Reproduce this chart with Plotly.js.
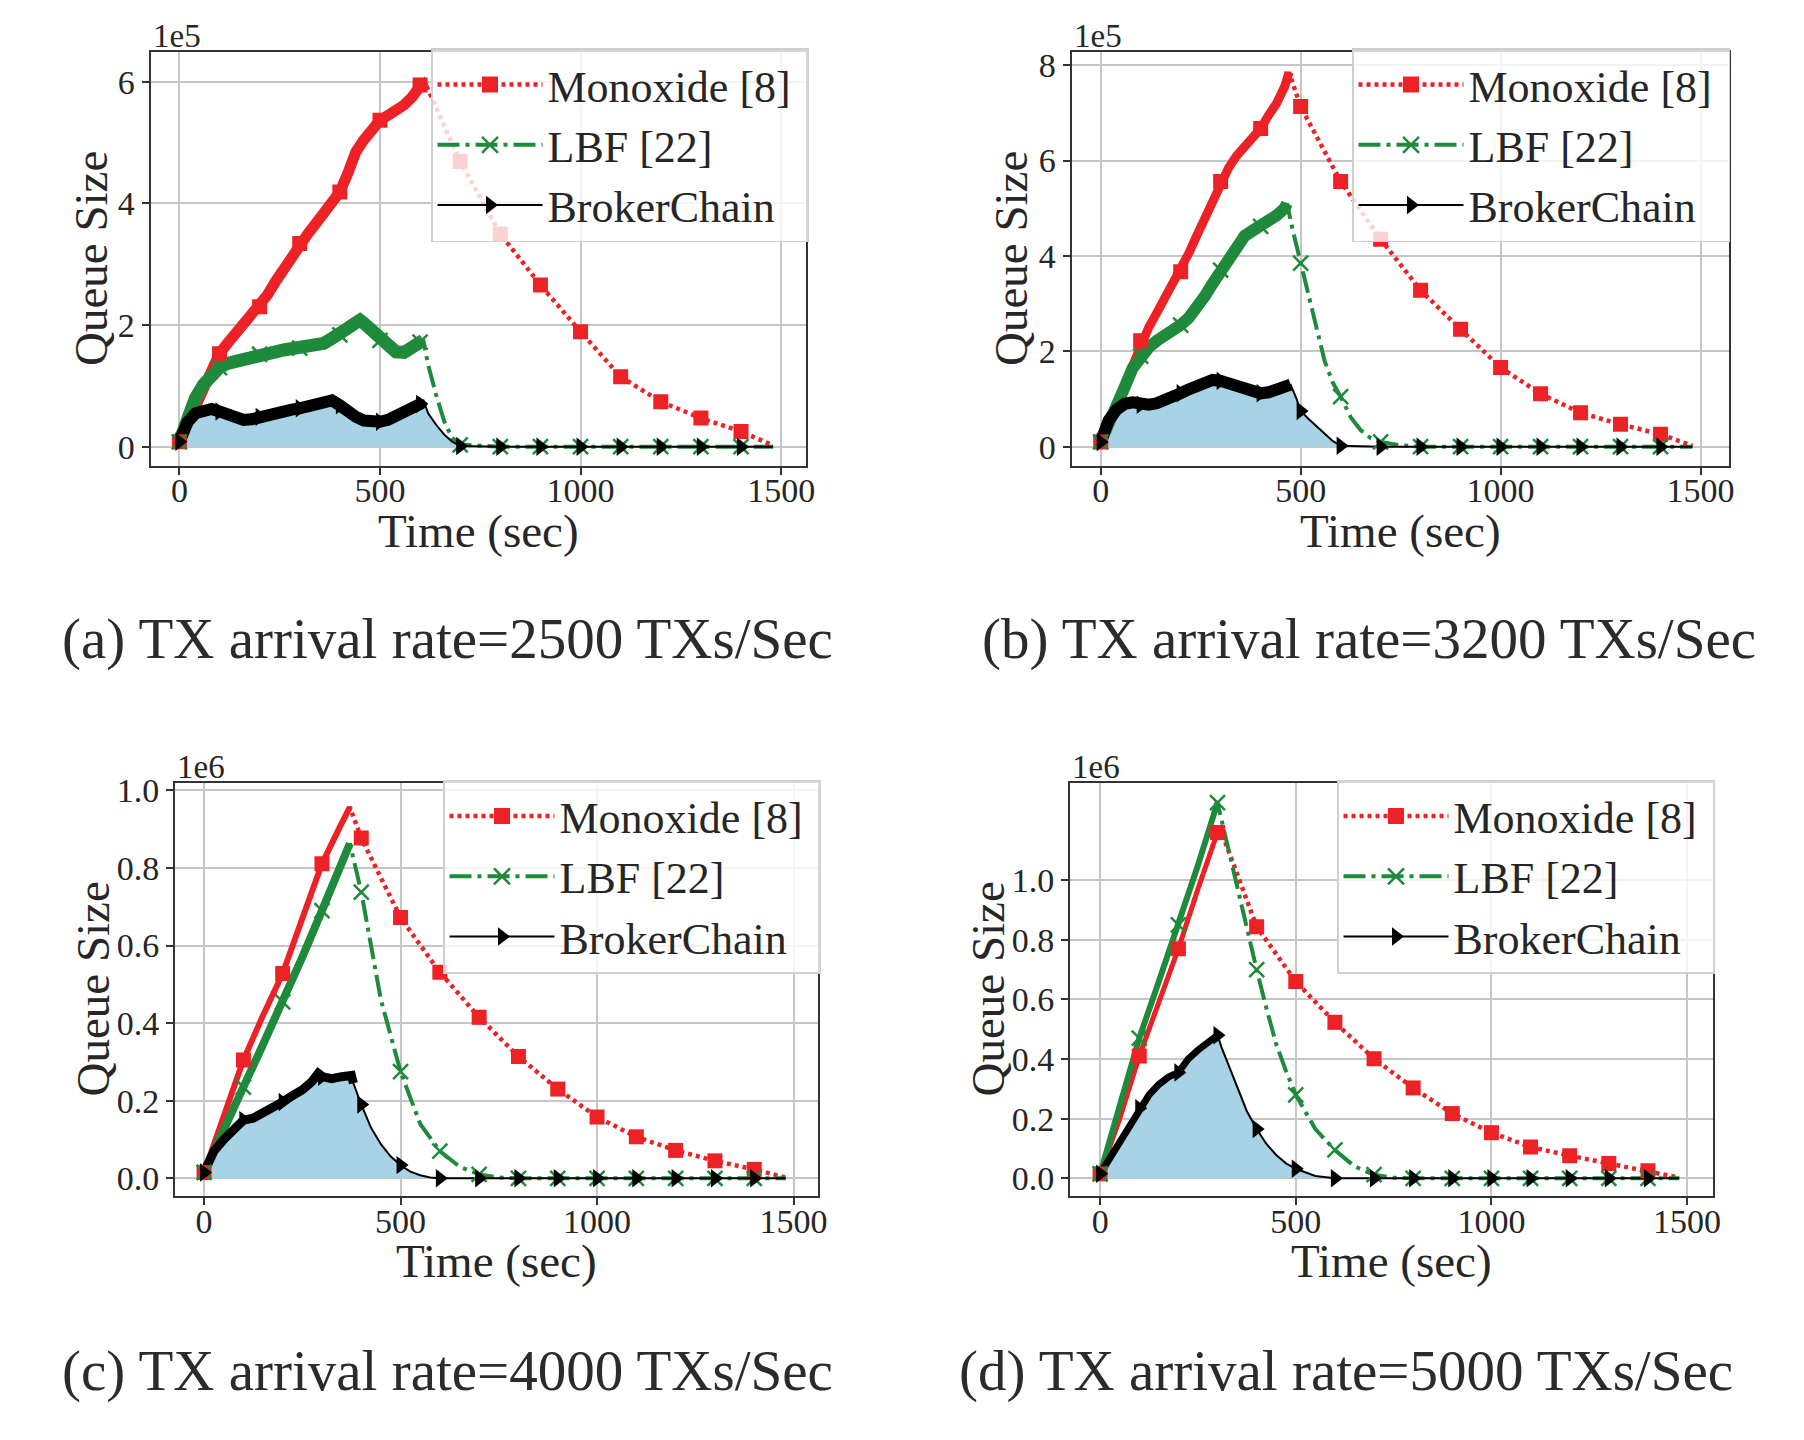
<!DOCTYPE html>
<html>
<head>
<meta charset="utf-8">
<script src="https://cdn.plot.ly/plotly-3.0.1.min.js"></script>
<style>
  html, body { margin: 0; padding: 0; background: #ffffff; }
  #chart { width: 1804px; height: 1440px; }
</style>
</head>
<body>
<div id="chart"></div>
<script>
// Queue size of the TX pool over time under four TX arrival rates.
// Values are expressed in the unit printed above each y axis (1e5 or 1e6).

const seriesNames = ['Monoxide [8]', 'LBF [22]', 'BrokerChain'];
const captions = [
  '(a) TX arrival rate=2500 TXs/Sec',
  '(b) TX arrival rate=3200 TXs/Sec',
  '(c) TX arrival rate=4000 TXs/Sec',
  '(d) TX arrival rate=5000 TXs/Sec'
];
const offsetLabels = ['1e5', '1e5', '1e6', '1e6'];
const xTickValues = [0, 500, 1000, 1500];
const yTickValues = [
  [0, 2, 4, 6],
  [0, 2, 4, 6, 8],
  [0, 0.2, 0.4, 0.6, 0.8, 1.0],
  [0, 0.2, 0.4, 0.6, 0.8, 1.0]
];

// (a) 2500 TXs/Sec, unit 1e5
const aMonoxideTime = [0,20,40,60,80,100,120,140,160,180,200,220,240,260,280,300,320,340,360,380,400,420,440,460,480,500,520,540,560,580,600,610,700,800,900,1000,1100,1200,1300,1400,1480];
const aMonoxide = [0.08,0.38,0.7,1.0,1.28,1.53,1.7,1.86,2.01,2.15,2.3,2.5,2.72,2.93,3.13,3.34,3.5,3.67,3.85,4.02,4.19,4.5,4.85,5.05,5.2,5.37,5.45,5.53,5.62,5.75,5.95,6.02,4.69,3.5,2.66,1.89,1.15,0.74,0.47,0.25,0.02];
const aLbfTime = [0,20,40,60,80,100,120,140,160,180,200,220,240,260,280,300,320,340,360,380,400,420,440,450,460,480,500,520,540,560,580,600,608,620,640,660,680,700,800,900,1000,1100,1200,1300,1400,1480];
const aLbf = [0.08,0.45,0.8,1.02,1.18,1.3,1.37,1.41,1.45,1.49,1.52,1.54,1.56,1.59,1.61,1.62,1.63,1.65,1.7,1.78,1.84,1.95,2.04,2.08,2.03,1.9,1.75,1.62,1.56,1.55,1.62,1.72,1.75,1.35,0.85,0.42,0.14,0.03,0,0,0,0,0,0,0,0];
const aBrokerTime = [0,20,40,60,80,100,120,140,160,180,200,220,240,260,280,300,320,340,360,380,400,420,440,460,480,500,520,540,560,580,600,608,620,640,660,680,700,800,900,1000,1100,1200,1300,1400,1480];
const aBroker = [0.08,0.4,0.55,0.6,0.62,0.58,0.52,0.47,0.44,0.45,0.49,0.54,0.58,0.6,0.61,0.63,0.66,0.69,0.72,0.76,0.68,0.57,0.49,0.43,0.41,0.41,0.44,0.5,0.56,0.6,0.7,0.77,0.55,0.36,0.2,0.08,0.01,0,0,0,0,0,0,0,0];

// (b) 3200 TXs/Sec, unit 1e5
const bMonoxideTime = [0,20,40,60,80,100,120,140,160,180,200,220,240,260,280,300,320,340,360,380,400,420,440,460,471,500,600,700,800,900,1000,1100,1200,1300,1400,1480];
const bMonoxide = [0.1,0.5,0.95,1.4,1.82,2.22,2.5,2.8,3.1,3.38,3.67,4.05,4.42,4.8,5.18,5.56,5.85,6.1,6.3,6.5,6.67,6.95,7.2,7.55,7.85,7.13,5.56,4.35,3.28,2.46,1.66,1.11,0.71,0.47,0.26,0.02];
const bLbfTime = [0,20,40,60,80,100,120,140,160,180,200,220,240,260,280,300,320,340,360,380,400,420,440,460,466,480,500,520,540,560,580,600,625,650,675,700,750,800,900,1000,1100,1200,1300,1400,1480];
const bLbf = [0.1,0.45,0.85,1.25,1.65,1.9,2.08,2.22,2.32,2.42,2.55,2.7,2.9,3.15,3.42,3.7,3.98,4.25,4.42,4.53,4.62,4.73,4.85,5.0,5.1,4.55,3.85,3.2,2.45,1.8,1.35,1.05,0.62,0.35,0.18,0.1,0.03,0,0,0,0,0,0,0,0];
const bBrokerTime = [0,20,40,60,80,100,120,140,160,180,200,220,240,260,280,300,320,340,360,380,400,420,440,460,475,490,500,520,540,560,580,600,700,800,900,1000,1100,1200,1300,1400,1480];
const bBroker = [0.1,0.55,0.78,0.9,0.93,0.88,0.88,0.91,0.96,1.03,1.12,1.2,1.25,1.3,1.4,1.38,1.32,1.25,1.2,1.14,1.12,1.14,1.2,1.26,1.3,1.0,0.75,0.58,0.43,0.27,0.12,0.02,0,0,0,0,0,0,0,0,0];

// (c) 4000 TXs/Sec, unit 1e6
const cMonoxideTime = [0,50,100,150,200,250,300,350,371,400,500,600,700,800,900,1000,1100,1200,1300,1400,1480];
const cMonoxide = [0.015,0.16,0.305,0.42,0.528,0.67,0.811,0.915,0.957,0.877,0.672,0.531,0.415,0.314,0.23,0.158,0.107,0.072,0.045,0.023,0.002];
const cLbfTime = [0,50,100,150,200,250,300,350,371,400,450,500,550,600,650,700,750,800,900,1000,1100,1200,1300,1400,1480];
const cLbf = [0.015,0.12,0.235,0.345,0.455,0.57,0.69,0.815,0.863,0.738,0.46,0.275,0.14,0.07,0.03,0.01,0.002,0,0,0,0,0,0,0,0];
const cBrokerTime = [0,25,50,75,100,125,150,175,200,225,250,275,290,300,325,350,375,380,400,425,450,475,500,525,550,575,600,700,800,900,1000,1100,1200,1300,1400,1480];
const cBroker = [0.015,0.07,0.1,0.122,0.15,0.155,0.167,0.182,0.197,0.213,0.228,0.25,0.27,0.262,0.257,0.262,0.265,0.245,0.19,0.13,0.088,0.056,0.034,0.017,0.008,0.002,0,0,0,0,0,0,0,0,0,0];

// (d) unit 1e6
const dMonoxideTime = [0,50,100,150,200,250,300,305,400,500,600,700,800,900,1000,1100,1200,1300,1400,1480];
const dMonoxide = [0.015,0.2,0.41,0.59,0.77,0.97,1.16,1.18,0.844,0.66,0.523,0.401,0.303,0.217,0.153,0.105,0.076,0.05,0.025,0.002];
const dLbfTime = [0,50,100,150,200,250,300,325,350,375,400,425,450,475,500,550,600,650,700,750,800,900,1000,1100,1200,1300,1400,1480];
const dLbf = [0.015,0.25,0.47,0.66,0.85,1.05,1.26,1.12,0.97,0.84,0.7,0.57,0.45,0.36,0.28,0.165,0.095,0.04,0.012,0.002,0,0,0,0,0,0,0,0];
const dBrokerTime = [0,25,50,75,100,125,150,175,200,225,250,275,300,310,325,350,375,400,425,450,475,500,550,600,700,800,900,1000,1100,1200,1300,1400,1480];
const dBroker = [0.015,0.07,0.12,0.17,0.235,0.28,0.315,0.34,0.355,0.4,0.43,0.455,0.48,0.44,0.39,0.31,0.225,0.165,0.115,0.078,0.05,0.032,0.008,0,0,0,0,0,0,0,0,0,0];

const panelData = [
  [[aMonoxideTime, aMonoxide], [aLbfTime, aLbf], [aBrokerTime, aBroker]],
  [[bMonoxideTime, bMonoxide], [bLbfTime, bLbf], [bBrokerTime, bBroker]],
  [[cMonoxideTime, cMonoxide], [cLbfTime, cLbf], [cBrokerTime, cBroker]],
  [[dMonoxideTime, dMonoxide], [dLbfTime, dLbf], [dBrokerTime, dBroker]]
];

// ---- styling and geometry ----
const W = 1804, H = 1440;
const SERIF = 'Liberation Serif, Times New Roman, serif';
const RED = '#ec2227', GREEN = '#1f8a3c', BLACK = '#000000', FILL = 'rgb(168,211,231)';
const INK = '#262626';

const seriesStyle = [
  { color: RED,   width: 4.5, dash: '4px,4px',          symbol: 'square',         size: 15, lineW: 0 },
  { color: GREEN, width: 4,   dash: '22px,6px,4px,6px', symbol: 'x-thin',         size: 15, lineW: 2.5 },
  { color: BLACK, width: 2,   dash: 'solid',            symbol: 'triangle-right', size: 16, lineW: 0 }
];

// plot-area boxes in px: [left, top, right, bottom]
const boxes = [[150.5, 51.5, 806, 465.5], [1071.5, 51.5, 1728.5, 465.5], [175, 783, 817.5, 1196], [1070, 783, 1712.5, 1196]];
const xRanges = [[-72, 1562], [-73, 1570], [-74, 1561], [-77, 1565]];
const yRanges = [[-0.31, 6.5], [-0.394, 8.285], [-0.0456, 1.019], [-0.0594, 1.3258]];
const yTickFormats = ['d', 'd', '.1f', '.1f'];
const yTitleShift = [60, 61, 83, 83];
// the dense, jittery ramp phase is drawn as a solid band up to these times
const noisyUntil = [[610, 608, 608], [471, 466, 475], [371, 371, 380], [305, 300, 300]];
const bandWidths = [[11, 13, 12], [9, 12, 12], [6, 8, 9], [5, 6, 7]];
const legendCorners = [[431, 48], [1352, 48], [443, 779.5], [1337, 779.5]];
const captionPos = [[60, 638.5], [980, 638.5], [60, 1371.4], [957, 1371.4]];

const suffix = p => (p === 0 ? '' : String(p + 1));
const traces = [];
const layout = {
  width: W, height: H,
  margin: { l: 0, r: 0, t: 0, b: 0 },
  paper_bgcolor: '#ffffff', plot_bgcolor: '#ffffff',
  showlegend: true,
  annotations: []
};

panelData.forEach((sers, p) => {
  const s = suffix(p);
  const xa = 'x' + s, ya = 'y' + s;
  const [l, t, r, b] = boxes[p];

  // shaded area under BrokerChain
  const [bt, bv] = sers[2];
  traces.push({ x: bt, y: bv, xaxis: xa, yaxis: ya, mode: 'none', fill: 'tozeroy',
    fillcolor: FILL, showlegend: false, hoverinfo: 'skip' });

  const markerTraces = [];
  sers.forEach(([tm, val], k) => {
    const st = seriesStyle[k];
    const bandIdx = tm.map((_, i) => i).filter(i => tm[i] <= noisyUntil[p][k]);
    traces.push({ x: bandIdx.map(i => tm[i]), y: bandIdx.map(i => val[i]), xaxis: xa, yaxis: ya,
      mode: 'lines', line: { color: st.color, width: bandWidths[p][k] }, showlegend: false, hoverinfo: 'skip' });
    traces.push({ x: tm, y: val, xaxis: xa, yaxis: ya, mode: 'lines', name: seriesNames[k],
      line: { color: st.color, width: st.width, dash: st.dash }, showlegend: false });
    const mIdx = tm.map((_, i) => i).filter(i => tm[i] % 100 === 0 && tm[i] <= 1400);
    markerTraces.push({ x: mIdx.map(i => tm[i]), y: mIdx.map(i => val[i]), xaxis: xa, yaxis: ya,
      mode: 'markers', name: seriesNames[k], showlegend: false,
      marker: { symbol: st.symbol, size: st.size, color: st.color,
        line: { color: st.color, width: st.lineW } } });
  });
  markerTraces.forEach(tr => traces.push(tr));

  // legend entries (a trailing no-break space gives the box its right padding)
  const legId = 'legend' + s;
  seriesStyle.forEach((st, k) => {
    traces.push({ x: [null], y: [null], xaxis: xa, yaxis: ya, mode: 'lines+markers',
      name: seriesNames[k] + '\u00a0', legend: legId, legendgroup: 'g' + p + k, showlegend: true,
      line: { color: st.color, width: st.width, dash: st.dash },
      marker: { symbol: st.symbol, size: 16, color: st.color, line: { color: st.color, width: st.lineW } } });
  });

  const axisCommon = {
    showgrid: true, gridcolor: '#c6c6c6', gridwidth: 2,
    showline: true, mirror: true, linecolor: '#333333', linewidth: 2,
    ticks: 'outside', ticklen: 7, tickwidth: 2, tickcolor: '#333333',
    zeroline: false, tickfont: { family: SERIF, size: 34, color: INK },
    fixedrange: true
  };
  layout['xaxis' + s] = Object.assign({}, axisCommon, {
    domain: [l / W, r / W], anchor: ya, range: xRanges[p], tickvals: xTickValues, tickformat: 'd',
    ticklabelstandoff: -13
  });
  layout['yaxis' + s] = Object.assign({}, axisCommon, {
    domain: [1 - b / H, 1 - t / H], anchor: xa, range: yRanges[p], tickvals: yTickValues[p],
    tickformat: yTickFormats[p]
  });

  layout[legId] = {
    x: legendCorners[p][0] / W, y: 1 - legendCorners[p][1] / H, xref: 'paper', yref: 'paper',
    xanchor: 'left', yanchor: 'top',
    bgcolor: 'rgba(255,255,255,0.8)', bordercolor: '#cfcfcf', borderwidth: 1.5,
    font: { family: SERIF, size: 44, color: INK },
    itemwidth: 105, traceorder: 'grouped', tracegroupgap: 0,
    itemclick: false, itemdoubleclick: false
  };

  // axis titles, offset text and caption
  layout.annotations.push({ text: 'Time (sec)', xref: xa + ' domain', yref: ya + ' domain',
    x: 0.5, y: 0, xanchor: 'center', yanchor: 'middle', yshift: -65, showarrow: false,
    font: { family: SERIF, size: 47, color: INK } });
  layout.annotations.push({ text: 'Queue Size', xref: xa + ' domain', yref: ya + ' domain',
    x: 0, y: 0.5, xanchor: 'center', yanchor: 'middle', xshift: -yTitleShift[p], textangle: -90,
    showarrow: false, font: { family: SERIF, size: 47, color: INK } });
  layout.annotations.push({ text: offsetLabels[p], xref: xa + ' domain', yref: ya + ' domain',
    x: 0, y: 1, xanchor: 'left', yanchor: 'middle', yshift: 16, showarrow: false,
    font: { family: SERIF, size: 33, color: INK } });
  layout.annotations.push({ text: captions[p], xref: 'paper', yref: 'paper',
    x: captionPos[p][0] / W, y: 1 - captionPos[p][1] / H, xanchor: 'left', yanchor: 'middle',
    showarrow: false, font: { family: SERIF, size: 57, color: '#2b2b2b' } });
});

Plotly.newPlot('chart', traces, layout, { staticPlot: true, displayModeBar: false });
</script>
</body>
</html>
